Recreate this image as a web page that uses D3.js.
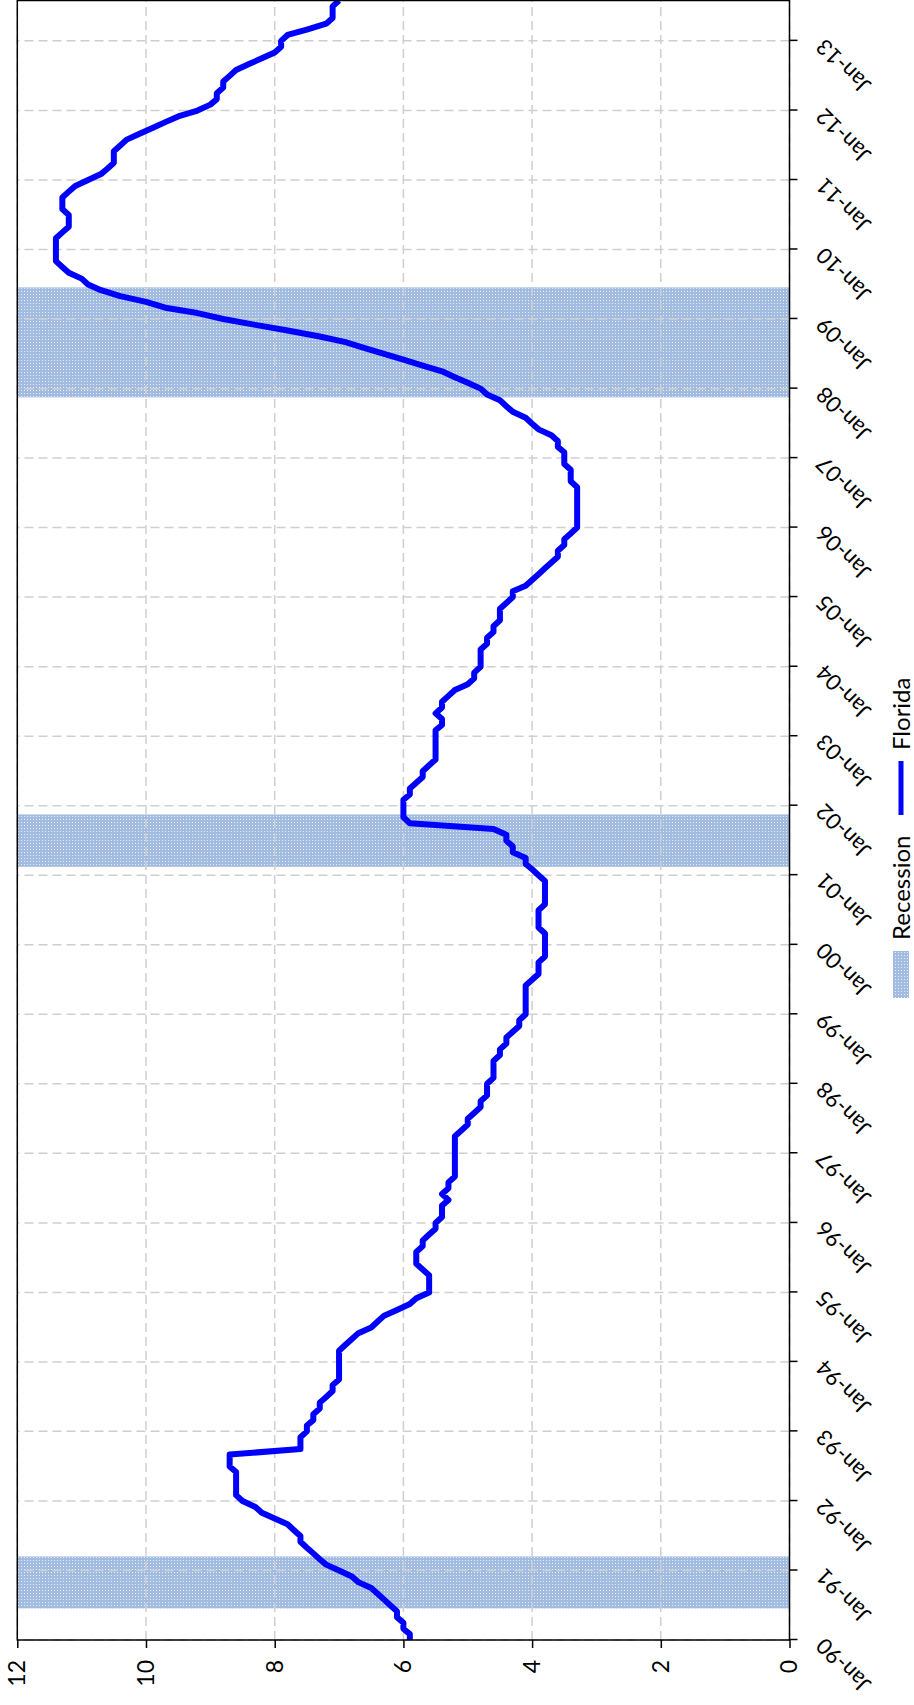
<!DOCTYPE html>
<html>
<head>
<meta charset="utf-8">
<script src="https://cdn.jsdelivr.net/npm/d3@7/dist/d3.min.js"></script>
<style>
  body { margin: 0; background: #fff; }
  svg { display: block; font-family: Lato, "DejaVu Sans", sans-serif; }
</style>
</head>
<body>
<svg id="chart"></svg>
<script>
var firstMonth = "1990-01";
var lastMonth = "2013-08";

/* Florida unemployment rate (%), one value per month */
var florida1990s = [
  5.9, 5.9, 6.0, 6.0, 6.1, 6.1, 6.2, 6.3, 6.4, 6.5, 6.7, 6.8,   // 1990
  7.0, 7.2, 7.3, 7.4, 7.5, 7.6, 7.6, 7.7, 7.8, 8.0, 8.2, 8.3,   // 1991
  8.5, 8.6, 8.6, 8.6, 8.6, 8.6, 8.7, 8.7, 8.7, 7.6, 7.6, 7.6,   // 1992
  7.5, 7.5, 7.4, 7.4, 7.3, 7.3, 7.2, 7.1, 7.1, 7.0, 7.0, 7.0,   // 1993
  7.0, 7.0, 7.0, 6.9, 6.8, 6.7, 6.5, 6.4, 6.3, 6.1, 5.9, 5.8,   // 1994
  5.6, 5.6, 5.6, 5.6, 5.7, 5.8, 5.8, 5.8, 5.7, 5.7, 5.6, 5.5,   // 1995
  5.5, 5.4, 5.4, 5.4, 5.3, 5.4, 5.3, 5.3, 5.2, 5.2, 5.2, 5.2,   // 1996
  5.2, 5.2, 5.2, 5.2, 5.1, 5.0, 5.0, 4.9, 4.8, 4.8, 4.7, 4.7,   // 1997
  4.7, 4.6, 4.6, 4.6, 4.6, 4.5, 4.5, 4.4, 4.4, 4.3, 4.2, 4.2,   // 1998
  4.1, 4.1, 4.1, 4.1, 4.1, 4.1, 4.0, 3.9, 3.9, 3.9, 3.8, 3.8    // 1999
];
var florida2000s = [
  3.8, 3.8, 3.8, 3.9, 3.9, 3.9, 3.9, 3.8, 3.8, 3.8, 3.8, 3.8,   // 2000
  3.9, 4.0, 4.1, 4.1, 4.3, 4.3, 4.4, 4.4, 4.6, 5.9, 6.0, 6.0,   // 2001
  6.0, 6.0, 5.9, 5.9, 5.8, 5.7, 5.7, 5.6, 5.5, 5.5, 5.5, 5.5,   // 2002
  5.5, 5.5, 5.4, 5.4, 5.5, 5.4, 5.4, 5.3, 5.2, 5.0, 4.9, 4.9,   // 2003
  4.8, 4.8, 4.8, 4.8, 4.7, 4.7, 4.6, 4.6, 4.5, 4.5, 4.5, 4.4,   // 2004
  4.3, 4.3, 4.1, 4.0, 3.9, 3.8, 3.7, 3.6, 3.6, 3.5, 3.5, 3.4,   // 2005
  3.3, 3.3, 3.3, 3.3, 3.3, 3.3, 3.3, 3.3, 3.4, 3.4, 3.4, 3.5,   // 2006
  3.5, 3.5, 3.6, 3.6, 3.7, 3.9, 4.0, 4.1, 4.3, 4.4, 4.5, 4.7,   // 2007
  4.8, 5.0, 5.2, 5.4, 5.7, 6.0, 6.3, 6.6, 6.9, 7.3, 7.8, 8.3,   // 2008
  8.8, 9.2, 9.7, 10.0, 10.4, 10.7, 10.9, 11.0, 11.2, 11.3, 11.4, 11.4 // 2009
];
var florida2010s = [
  11.4, 11.4, 11.4, 11.3, 11.2, 11.2, 11.2, 11.3, 11.3, 11.3, 11.2, 11.1, // 2010
  10.9, 10.7, 10.6, 10.5, 10.5, 10.5, 10.4, 10.3, 10.1, 9.9, 9.7, 9.5,    // 2011
  9.2, 9.0, 8.9, 8.9, 8.8, 8.8, 8.7, 8.6, 8.4, 8.2, 8.0, 7.9,             // 2012
  7.9, 7.8, 7.5, 7.2, 7.1, 7.1, 7.1, 7.0                                  // 2013
];

/* recession months, first and last */
var recessions = [
  ["1990-07", "1991-03"],
  ["2001-03", "2001-11"],
  ["2007-12", "2009-06"]
];

var valueTicks = [0, 2, 4, 6, 8, 10, 12];
var legendLabels = ["Recession", "Florida"];

var pageWidth = 914;
var pageHeight = 1705;
/* the chart is laid out landscape and then turned a quarter turn */
var width = pageHeight;
var height = pageWidth;
var margin = { top: 17.3, right: 0.5, bottom: 124.5, left: 65 };

var parseMonth = d3.utcParse("%Y-%m");
var months = d3.utcMonth.range(
  parseMonth(firstMonth),
  d3.utcMonth.offset(parseMonth(lastMonth), 1)
);
var values = florida1990s.concat(florida2000s, florida2010s);
var data = months.map(function (d, i) {
  return { date: d, value: values[i] };
});

var xScale = d3
  .scaleUtc()
  .domain([parseMonth(firstMonth), parseMonth(lastMonth)])
  .range([margin.left, width - margin.right]);

var yScale = d3
  .scaleLinear()
  .domain([0, 12])
  .range([height - margin.bottom, margin.top]);

var yearTicks = d3.utcYear.range(parseMonth("1990-01"), parseMonth("2014-01"));

var svg = d3.select("#chart").attr("width", pageWidth).attr("height", pageHeight);

var defs = svg.append("defs");
var dots = defs
  .append("pattern")
  .attr("id", "dots")
  .attr("width", 3)
  .attr("height", 3)
  .attr("patternUnits", "userSpaceOnUse");
dots.append("rect").attr("width", 3).attr("height", 3).attr("fill", "#a1bce0");
dots.append("rect").attr("width", 1).attr("height", 1).attr("fill", "#e8eef8");

defs
  .append("clipPath")
  .attr("id", "plot-clip")
  .append("rect")
  .attr("x", margin.left)
  .attr("y", margin.top)
  .attr("width", width - margin.left - margin.right)
  .attr("height", height - margin.top - margin.bottom);

var g = svg
  .append("g")
  .attr("transform", "translate(0," + pageHeight + ") rotate(-90)");

/* recession shading, each month is one bar wide */
g.append("g")
  .selectAll("rect")
  .data(recessions)
  .enter()
  .append("rect")
  .attr("x", function (d) {
    return xScale(d3.utcDay.offset(parseMonth(d[0]), -15));
  })
  .attr("width", function (d) {
    return (
      xScale(d3.utcDay.offset(parseMonth(d[1]), 15)) -
      xScale(d3.utcDay.offset(parseMonth(d[0]), -15))
    );
  })
  .attr("y", yScale(12))
  .attr("height", yScale(0) - yScale(12))
  .attr("fill", "url(#dots)");

/* dashed grid */
var grid = g
  .append("g")
  .attr("stroke", "#cfcfcf")
  .attr("stroke-width", 1.5)
  .attr("stroke-dasharray", "9,5");

grid
  .selectAll(".vgrid")
  .data(yearTicks)
  .enter()
  .append("line")
  .attr("x1", function (d) { return xScale(d); })
  .attr("x2", function (d) { return xScale(d); })
  .attr("y1", yScale(0))
  .attr("y2", yScale(12));

grid
  .selectAll(".hgrid")
  .data(valueTicks)
  .enter()
  .append("line")
  .attr("x1", margin.left)
  .attr("x2", width - margin.right)
  .attr("y1", function (d) { return yScale(d); })
  .attr("y2", function (d) { return yScale(d); });

/* Florida line */
var line = d3
  .line()
  .x(function (d) { return xScale(d.date); })
  .y(function (d) { return yScale(d.value); });

g.append("path")
  .datum(data)
  .attr("clip-path", "url(#plot-clip)")
  .attr("d", line)
  .attr("fill", "none")
  .attr("stroke", "#0000ff")
  .attr("stroke-width", 6)
  .attr("stroke-linejoin", "round");

/* frame */
g.append("rect")
  .attr("x", margin.left)
  .attr("y", margin.top)
  .attr("width", width - margin.left - margin.right)
  .attr("height", height - margin.top - margin.bottom)
  .attr("fill", "none")
  .attr("stroke", "#000")
  .attr("stroke-width", 1.5);

/* axes */
var xAxis = d3
  .axisBottom(xScale)
  .tickValues(yearTicks)
  .tickFormat(d3.utcFormat("%b-%y"))
  .tickSize(8)
  .tickSizeOuter(0);

var xAxisG = g
  .append("g")
  .attr("transform", "translate(0," + yScale(0) + ")")
  .call(xAxis);
xAxisG.select(".domain").remove();
xAxisG.selectAll("line").attr("stroke", "#000").attr("stroke-width", 1.5);
xAxisG
  .selectAll("text")
  .attr("x", 0)
  .attr("y", 0)
  .attr("dy", 0)
  .attr("transform", "translate(3,36) rotate(-45)")
  .style("text-anchor", "end")
  .style("font-size", "22px")
  .style("font-family", "Lato, sans-serif")
  .attr("fill", "#000");

var yAxis = d3.axisLeft(yScale).tickValues(valueTicks).tickSize(8).tickSizeOuter(0);

var yAxisG = g
  .append("g")
  .attr("transform", "translate(" + margin.left + ",0)")
  .call(yAxis);
yAxisG.select(".domain").remove();
yAxisG.selectAll("line").attr("stroke", "#000").attr("stroke-width", 1.5);
yAxisG
  .selectAll("text")
  .attr("x", -20)
  .style("font-size", "23px")
  .style("font-family", "Lato, sans-serif")
  .attr("fill", "#000");

/* legend under the plot */
var legend = g.append("g").attr("transform", "translate(707,901)");
legend
  .append("rect")
  .attr("x", 0)
  .attr("y", -8)
  .attr("width", 47)
  .attr("height", 16)
  .attr("fill", "url(#dots)");
legend
  .append("text")
  .attr("x", 58)
  .attr("y", 8.5)
  .style("font-size", "24px")
  .text(legendLabels[0]);
legend
  .append("line")
  .attr("x1", 183)
  .attr("x2", 237)
  .attr("y1", 0)
  .attr("y2", 0)
  .attr("stroke", "#0000ff")
  .attr("stroke-width", 5);
legend
  .append("text")
  .attr("x", 248)
  .attr("y", 8.5)
  .style("font-size", "24px")
  .text(legendLabels[1]);
</script>
</body>
</html>
